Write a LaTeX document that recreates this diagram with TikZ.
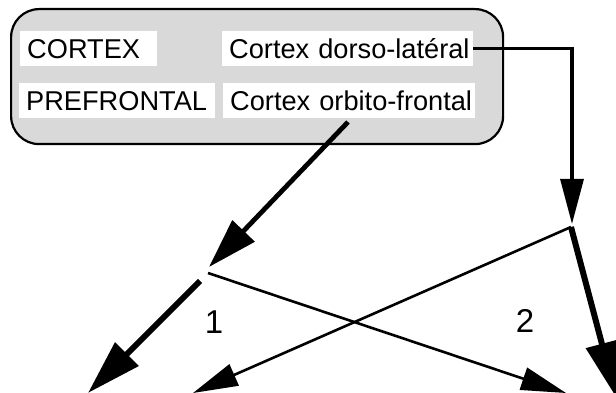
\documentclass[tikz,border=0pt]{standalone}
\usepackage{fontspec}
\setmainfont{Liberation Sans}
\usetikzlibrary{arrows.meta}
\begin{document}
\begin{tikzpicture}[x=1pt,y=-1pt,
  lbl/.style={fill=white, inner xsep=7pt, inner ysep=0pt, anchor=north west,
    minimum height=35pt, align=left, font=\fontsize{27.2}{30}\selectfont},
  numlbl/.style={font=\fontsize{33}{36}\selectfont, inner sep=0pt},
  thinarr/.style={line width=2.6pt, -{Triangle[length=45pt,width=23pt]}},
  midarr/.style={line width=4.8pt, -{Triangle[length=50pt,width=30pt]}},
  thickarr/.style={line width=6pt, -{Triangle[length=55pt,width=32pt]}},
  vertarr/.style={line width=3.2pt, -{Triangle[length=45pt,width=23pt]}}]
\clip (0,0) rectangle (616,393);
% prefrontal box
\node[draw, line width=2.2pt, fill=gray!30, rounded corners=28pt, anchor=north west,
  minimum width=492pt, minimum height=135pt, inner sep=0pt] (pfc) at (10,8) {};
\node[lbl, text width=123pt] (cx) at (20,31) {\mbox{CORTEX}};
\node[lbl, text width=182pt] (pf) at (19,83) {\mbox{PREFRONTAL}};
\node[lbl, text width=237pt] (dl) at (222,31) {\mbox{Cortex dorso-latéral}};
\node[lbl, text width=238pt] (of) at (223,83) {\mbox{Cortex orbito-frontal}};
% coordinates
\coordinate (n2) at (572,224);
\coordinate (n2o) at (571,227);
\coordinate (t2a) at (193,393);
\coordinate (t2b) at (616,397);
\coordinate (ofs) at (348,122);
\coordinate (n1) at (209,267);
\coordinate (n1a) at (208,273);
\coordinate (n1b) at (200,281);
\coordinate (t1a) at (566,393);
\coordinate (t1b) at (88,393);
% connectors
\draw[vertarr] (dl.east) -| (n2);
\draw[midarr] (ofs) -- (n1);
\draw[thickarr] (n1b) -- (t1b);
\draw[thinarr] (n1a) -- (t1a);
\draw[thinarr] (n2o) -- (t2a);
\draw[thickarr] (n2o) -- (t2b);
% labels
\node[numlbl] (l1) at (214,322) {1};
\node[numlbl] (l2) at (525,321) {2};
\end{tikzpicture}
\end{document}
